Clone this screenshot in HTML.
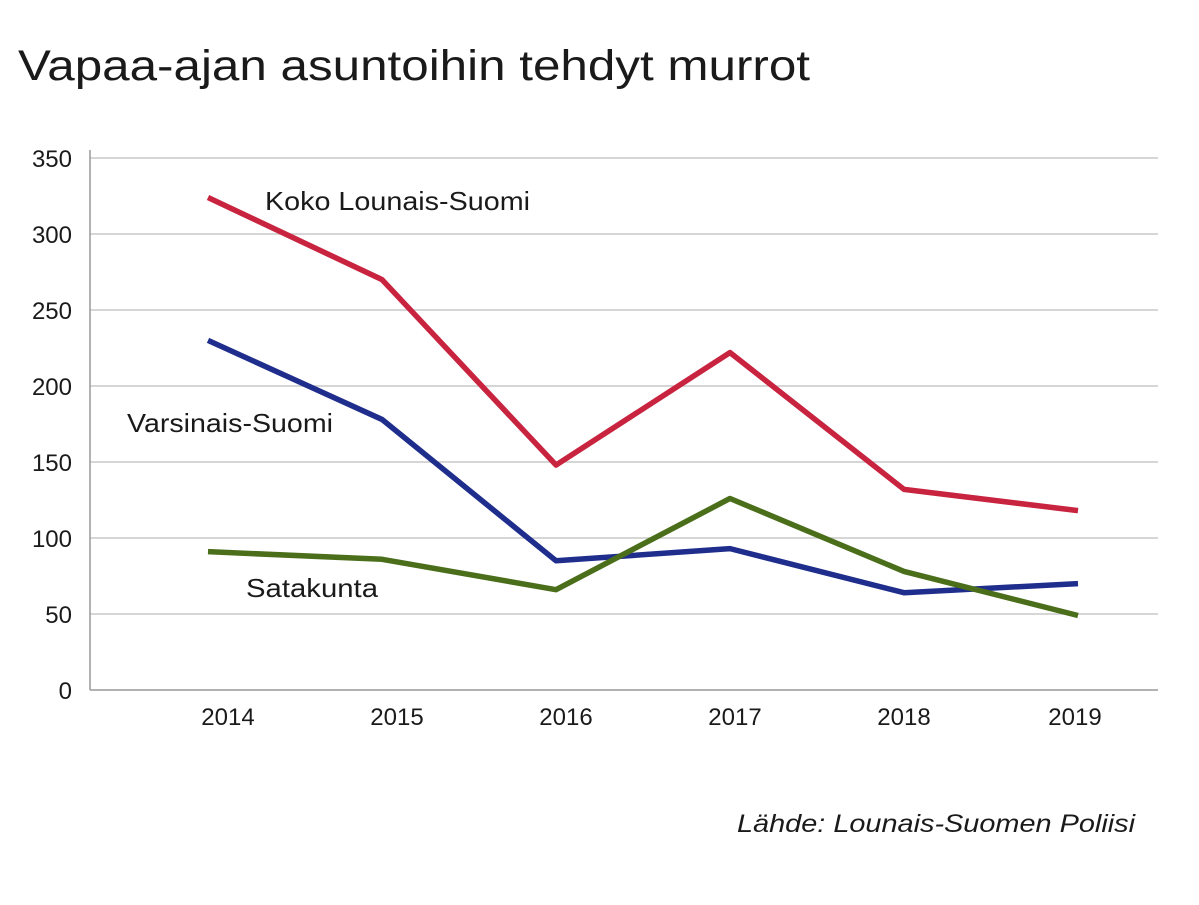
<!DOCTYPE html>
<html><head><meta charset="utf-8"><style>
body{margin:0;background:#fff;font-family:"Liberation Sans",sans-serif;}
svg text{font-family:"Liberation Sans",sans-serif;fill:#1a1a1a;}
</style></head><body>
<svg width="1199" height="900">
<text x="18" y="80" font-size="43" textLength="792" lengthAdjust="spacingAndGlyphs">Vapaa-ajan asuntoihin tehdyt murrot</text>
<g id="grid"></g><g id="lines"></g><g id="labels"></g>
<text x="737" y="832" font-size="25" font-style="italic" textLength="398" lengthAdjust="spacingAndGlyphs">Lähde: Lounais-Suomen Poliisi</text>
</svg>
<script>
const years=["2014","2015","2016","2017","2018","2019"];
const koko=[324,270,148,222,132,118];
const varsinais=[230,178,85,93,64,70];
const satakunta=[91,86,66,126,78,49];
const yTicks=[0,50,100,150,200,250,300,350];
const NS="http://www.w3.org/2000/svg";
const y=v=>690-v*1.52;
const x=i=>208+i*174;
function mk(t,a,p){const e=document.createElementNS(NS,t);for(const k in a)e.setAttribute(k,a[k]);p.appendChild(e);return e;}
const g=document.getElementById('grid');
yTicks.forEach(v=>{
 const l=mk('line',{x1:90,x2:1158,y1:y(v),y2:y(v),stroke:v===0?'#999':'#c8c8c8','stroke-width':1.5},g);
 
 
 const t=mk('text',{x:72,y:y(v)+9,'font-size':24,'text-anchor':'end'},g);t.textContent=v;
 
 
});
const ax=mk('line',{x1:90,x2:90,y1:150,y2:690,stroke:'#999','stroke-width':1.5},g);


years.forEach((yr,i)=>{
 const t=mk('text',{x:x(i)+Math.max(20-i*5,-3),y:725,'font-size':24,'text-anchor':'middle'},g);t.textContent=yr;
 
 
});
const L=document.getElementById('lines');
[[koko,'#c8243f','line-koko-lounais-suomi'],[varsinais,'#1f2e8c','line-varsinais-suomi'],[satakunta,'#4a6e1a','line-satakunta']].forEach(([d,c,n])=>{
 const p=mk('polyline',{points:d.map((v,i)=>x(i)+','+y(v)).join(' '),fill:'none',stroke:c,'stroke-width':5.5,'stroke-linejoin':'round'},L);
 
 
});
const lb=document.getElementById('labels');
[["Koko Lounais-Suomi",265,210,265,'label-koko'],["Varsinais-Suomi",127,432,206,'label-varsinais'],["Satakunta",246,597,132,'label-satakunta']].forEach(([s,a,b,w,n])=>{
 const t=mk('text',{x:a,y:b,'font-size':26,textLength:w,lengthAdjust:'spacingAndGlyphs'},lb);t.textContent=s;
 
 
});
</script>
</body></html>
